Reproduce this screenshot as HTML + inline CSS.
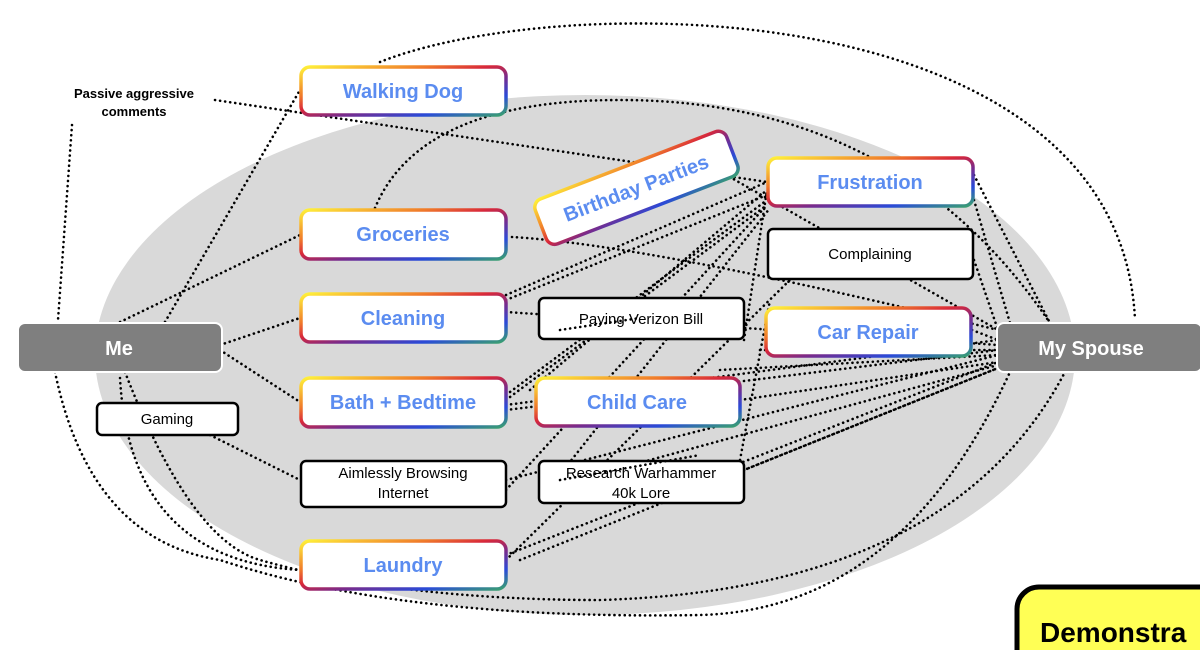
<!DOCTYPE html>
<html><head><meta charset="utf-8"><style>
html,body{margin:0;padding:0;background:#fff;width:1200px;height:650px;overflow:hidden}
svg{display:block}
.t{font-family:"Liberation Sans",sans-serif;font-weight:bold;fill:#5b8cf0;font-size:20px;text-anchor:middle}
.b{font-family:"Liberation Sans",sans-serif;fill:#000;font-size:15px;text-anchor:middle}
.d{fill:none;stroke:#000;stroke-width:2.6;stroke-dasharray:0.1 5;stroke-linecap:round}
</style></head><body>
<svg width="1200" height="650" viewBox="0 0 1200 650">
<defs>
<linearGradient id="g" x1="0" y1="0" x2="1" y2="1">
<stop offset="0" stop-color="#fff23a"/><stop offset="0.3" stop-color="#f07a2a"/><stop offset="0.45" stop-color="#d8283a"/><stop offset="0.6" stop-color="#7a2a8a"/><stop offset="0.8" stop-color="#2a4ad8"/><stop offset="1" stop-color="#3aa070"/>
</linearGradient>
</defs>
<ellipse cx="585" cy="355" rx="490" ry="260" fill="#d9d9d9"/>
<g class="d">
<path d="M380 62 C560 -10 1120 -10 1135 320"/>
<path d="M215 100 L767 182"/>
<path d="M375 208 Q420 100 620 100 Q900 100 1050 323"/>
<path d="M72 125 L58 320"/>
<path d="M165 322 L300 90"/>
<path d="M120 322 L300 235"/>
<path d="M220 345 L300 318"/>
<path d="M220 350 L300 402"/>
<path d="M210 435 L300 480"/>
<path d="M120 378 Q130 560 300 570"/>
<path d="M125 372 Q190 540 260 560 Q400 600 600 600 Q950 590 1065 372"/>
<path d="M55 372 Q90 540 220 560 Q400 620 700 615 Q900 610 1010 372"/>
<path d="M512 237 Q650 245 998 330"/>
<path d="M550 240 L700 160 L998 330"/>
<path d="M506 295 L767 182"/>
<path d="M506 300 L767 195"/>
<path d="M506 312 L998 345"/>
<path d="M506 395 L767 200"/>
<path d="M506 400 L767 205"/>
<path d="M506 405 L998 340"/>
<path d="M506 410 L998 350"/>
<path d="M506 490 L767 205"/>
<path d="M506 480 L998 355"/>
<path d="M506 560 L800 270"/>
<path d="M506 555 L998 362"/>
<path d="M520 560 L998 368"/>
<path d="M540 500 L770 208"/>
<path d="M540 490 L998 365"/>
<path d="M530 390 L767 190"/>
<path d="M740 400 L998 362"/>
<path d="M740 460 L770 300"/>
<path d="M744 470 L998 368"/>
<path d="M744 340 L767 190"/>
<path d="M974 175 L1050 323"/>
<path d="M974 200 L1010 323"/>
<path d="M974 260 L998 330"/>
<path d="M972 330 L998 340"/>
<path d="M760 350 L998 350"/>
<path d="M720 370 L998 355"/>
</g>
<g stroke="url(#g)" stroke-width="3.5" fill="#fff">
<rect x="301" y="67" width="205" height="48" rx="9"/>
<rect x="301" y="210" width="205" height="49" rx="9"/>
<rect x="301" y="294" width="205" height="48" rx="9"/>
<rect x="301" y="378" width="205" height="49" rx="9"/>
<rect x="301" y="541" width="205" height="48" rx="9"/>
<rect x="768" y="158" width="205" height="48" rx="9"/>
<rect x="766" y="308" width="205" height="48" rx="9"/>
<rect x="536" y="378" width="204" height="48" rx="9"/>
<rect x="534" y="164" width="205" height="48" rx="9" transform="rotate(-21 636 188)"/>
</g>
<g class="t">
<text x="403" y="98">Walking Dog</text>
<text x="403" y="241">Groceries</text>
<text x="403" y="325">Cleaning</text>
<text x="403" y="409">Bath + Bedtime</text>
<text x="403" y="572">Laundry</text>
<text x="870" y="189">Frustration</text>
<text x="868" y="339">Car Repair</text>
<text x="637" y="409">Child Care</text>
<text x="636" y="195" transform="rotate(-21 636 188)">Birthday Parties</text>
</g>
<g stroke="#000" stroke-width="2.5" fill="#fff">
<rect x="97" y="403" width="141" height="32" rx="5"/>
<rect x="301" y="461" width="205" height="46" rx="5"/>
<rect x="768" y="229" width="205" height="50" rx="5"/>
<rect x="539" y="298" width="205" height="41" rx="5"/>
<rect x="539" y="461" width="205" height="42" rx="5"/>
</g>
<g class="b">
<text x="167" y="424">Gaming</text>
<text x="403" y="478">Aimlessly Browsing</text>
<text x="403" y="498">Internet</text>
<text x="870" y="259">Complaining</text>
<text x="641" y="324">Paying Verizon Bill</text>
<text x="641" y="478">Research Warhammer</text>
<text x="641" y="498">40k Lore</text>
</g>
<g class="d">
<path d="M560 330 L640 318"/>
<path d="M560 480 L700 455"/>
</g>
<rect x="18" y="323" width="204" height="49" rx="7" fill="#7f7f7f" stroke="#fff" stroke-width="2"/>
<rect x="997" y="323" width="205" height="49" rx="7" fill="#7f7f7f" stroke="#fff" stroke-width="2"/>
<g font-family="Liberation Sans,sans-serif" font-weight="bold" fill="#fff" font-size="20" text-anchor="middle">
<text x="119" y="355">Me</text>
<text x="1091" y="355">My Spouse</text>
</g>
<g font-family="Liberation Sans,sans-serif" font-weight="bold" fill="#000" font-size="13" text-anchor="middle">
<text x="134" y="98">Passive aggressive</text>
<text x="134" y="116">comments</text>
</g>
<rect x="1017" y="587" width="220" height="90" rx="22" fill="#ffff55" stroke="#000" stroke-width="5"/>
<text x="1040" y="642" font-family="Liberation Sans,sans-serif" font-weight="bold" font-size="28" fill="#000">Demonstra</text>
</svg>
</body></html>
